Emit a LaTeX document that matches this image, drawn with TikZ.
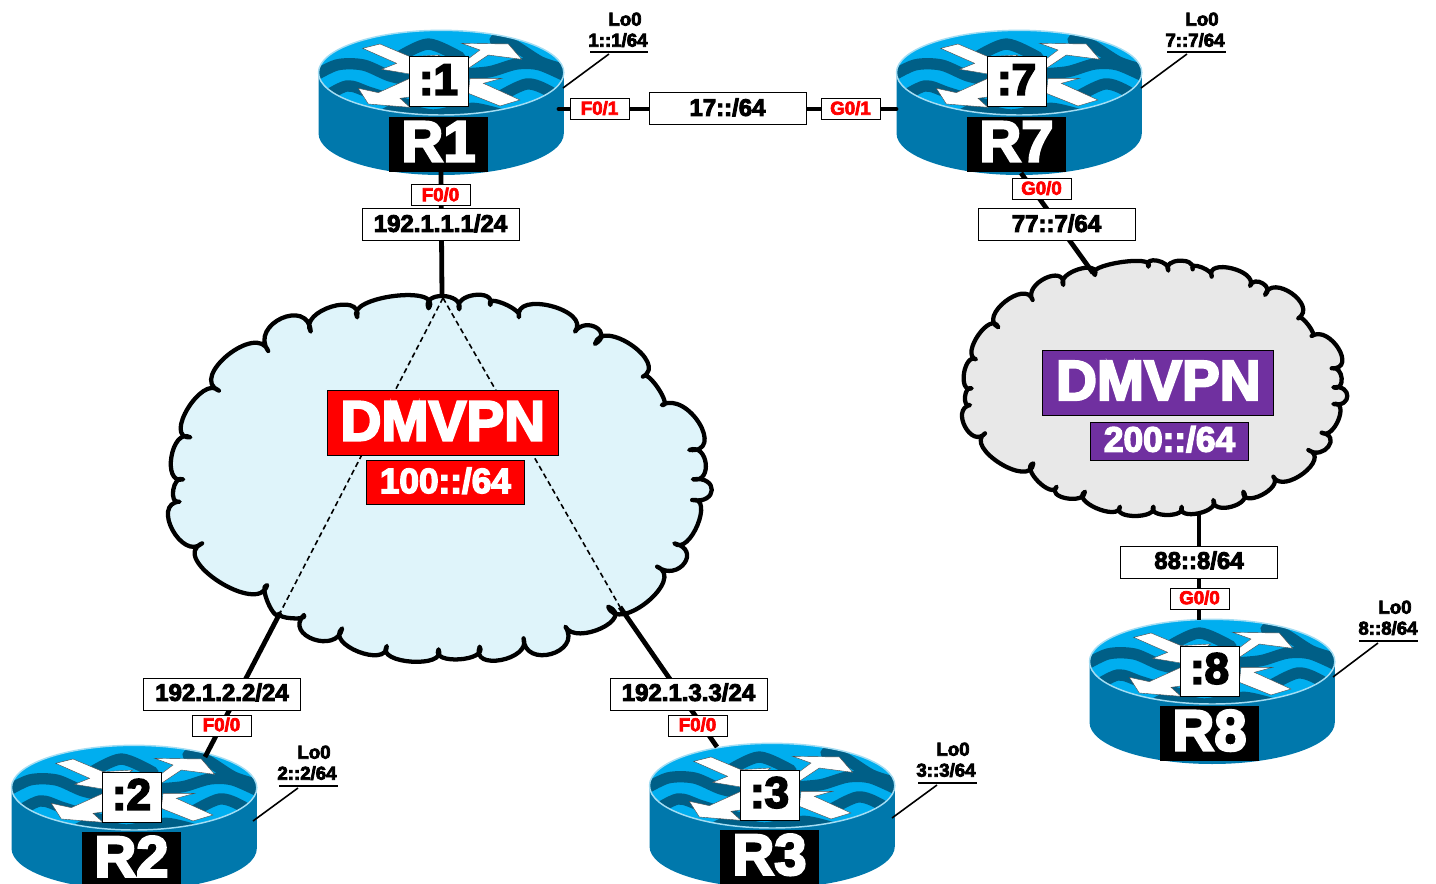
\documentclass[tikz,border=0pt]{standalone}
\usepackage{fontspec}
\newfontfamily\hb[FakeBold=4]{Liberation Sans Bold}
\definecolor{rtop}{HTML}{00AEEF}
\definecolor{rwave}{HTML}{005F87}
\definecolor{rbody}{HTML}{0078AC}
\definecolor{rrim}{HTML}{A4DDF3}
\definecolor{cloudA}{HTML}{DFF4FA}
\definecolor{cloudB}{HTML}{E8E8E8}
\definecolor{dmred}{HTML}{FF0000}
\definecolor{dmpur}{HTML}{7030A0}
\tikzset{
 ft/.style n args={3}{font=\fontsize{#1pt}{#1pt}\selectfont\hb,text height=#2pt,text depth=#3pt,inner sep=0pt,outer sep=0pt},
 f14/.style={ft={14}{10}{1.5}},
 f18/.style={ft={18}{12.9}{2.6}},
 f26/.style={ft={26.4}{18.9}{3}},
 f33/.style={ft={33}{23.6}{4.5}},
 f42/.style={ft={42.5}{30.4}{4.5}},
 f44/.style={ft={43.5}{31.1}{5}},
 addrbox/.style={f18,draw=black,fill=white,line width=.75pt,minimum width=117.75pt,minimum height=24pt},
 ifbox/.style={f14,draw=black,fill=white,text=red,line width=.75pt,minimum width=44.25pt,minimum height=15.75pt},
 lolab/.style={f14},
 link/.style={line width=3.6pt,draw=black},
 tunnel/.style={line width=1.2pt,draw=black,dash pattern=on 4pt off 2.6pt},
 uline/.style={line width=1.6pt,draw=black},
 leader/.style={line width=1.2pt,draw=black},
 cloudline/.style={line width=3.2pt,draw=black,line join=round},
 wave/.style={line width=8.5pt,draw=rwave,line cap=round},
 arrowshape/.style={fill=white,draw=black!70,line width=.3pt},
}
% one cloud lobe: from a through m to b
\newcommand\lobe[6]{ .. controls ({(1/3+0.2)*#1+4/3*#3-(2/3+0.2)*#5},{(1/3+0.2)*#2+4/3*#4-(2/3+0.2)*#6}) and ({(1/3+0.2)*#5+4/3*#3-(2/3+0.2)*#1},{(1/3+0.2)*#6+4/3*#4-(2/3+0.2)*#2}) .. (#5,#6)}
\newcommand\rtr[7]{%
 \begin{scope}[shift={(#1,#2)},x=.25pt,y=-.25pt]
  \fill[rbody] (55.5,218) -- (55.5,400) arc[start angle=180,end angle=360,x radius=92pt,y radius=31.25pt] -- (791.5,218) -- cycle;
  \begin{scope}
   \clip (423.5,218) ellipse [x radius=92pt,y radius=31.75pt];
   \fill[rtop] (423.5,218) ellipse [x radius=92pt,y radius=31.75pt];
   \draw[wave] plot[smooth] coordinates {(295,172) (385,132) (480,172)};
   \draw[wave] plot[smooth] coordinates {(585,120) (640,135) (720,185) (780,205)};
   \draw[wave] plot[smooth] coordinates {(30,235) (110,195) (190,195) (270,228) (350,245)};
   \draw[wave] plot[smooth] coordinates {(490,222) (570,215) (650,192) (720,195) (810,235)};
   \draw[wave] plot[smooth] coordinates {(60,300) (140,258) (210,278) (340,320)};
   \draw[wave] plot[smooth] coordinates {(590,295) (680,252) (750,275) (810,320)};
   \draw[wave] plot[smooth] coordinates {(250,345) (300,325) (400,345) (520,325) (640,355)};
  \end{scope}
  \draw[arrowshape] (188,145) -- (240,132) -- (330,170) -- (420,165) -- (330,222) -- (245,208) -- (290,190) -- cycle;
  \draw[arrowshape] (485,130) -- (625,132) -- (665,178) -- (565,165) -- (505,205) -- (500,180) -- (540,150) -- cycle;
  \draw[arrowshape] (175,265) -- (235,278) -- (330,235) -- (335,290) -- (300,295) -- (330,322) -- (205,312) -- cycle;
  \draw[arrowshape] (510,235) -- (605,235) -- (550,250) -- (660,300) -- (600,318) -- (505,280) -- cycle;
  \draw[rrim,line width=1.1pt] (423.5,218) ellipse [x radius=92pt,y radius=31.75pt];
  \node[f44,fill=black,text=white,minimum width=74.25pt,minimum height=41.25pt,anchor=north,#7] (#3) at (415.5,350) {#5};
  \node[f33,draw=black,line width=.75pt,fill=white,text=black,minimum width=44.25pt,minimum height=37.5pt] (#4) at (415.5,246) {#6};
 \end{scope}}
\begin{document}
\begin{tikzpicture}[x=.75pt,y=-.75pt]
\useasboundingbox (0,0) rectangle (1436,884);
% left cloud
\begin{scope}[shift={(160,280)},x=.75pt/2.8,y=-.25pt]
\draw[cloudline,fill=cloudA] (752,85)
 \lobe{752}{85}{792}{48}{838}{88}
 \lobe{838}{88}{880}{45}{925}{75}
 \lobe{925}{75}{965}{72}{1005}{112}
 \lobe{1005}{112}{1095}{78}{1162}{155}
 \lobe{1162}{155}{1222}{143}{1218}{192}
 \lobe{1218}{192}{1320}{195}{1352}{290}
 \lobe{1352}{290}{1395}{325}{1405}{375}
 \lobe{1405}{375}{1510}{430}{1482}{510}
 \lobe{1482}{510}{1528}{550}{1492}{598}
 \lobe{1492}{598}{1545}{630}{1490}{660}
 \lobe{1490}{660}{1505}{735}{1440}{790}
 \lobe{1440}{790}{1468}{850}{1392}{860}
 \lobe{1392}{860}{1365}{965}{1255}{980}
 \lobe{1255}{980}{1235}{1045}{1135}{1040}
 \lobe{1135}{1040}{1095}{1122}{1018}{1075}
 \lobe{1018}{1075}{955}{1140}{895}{1100}
 \lobe{895}{1100}{838}{1138}{780}{1108}
 \lobe{780}{1108}{705}{1145}{635}{1098}
 \lobe{635}{1098}{555}{1115}{510}{1045}
 \lobe{510}{1045}{430}{1078}{403}{1005}
 \lobe{403}{1005}{370}{1015}{335}{1000}
 \lobe{335}{1000}{303}{970}{300}{915}
 \lobe{300}{915}{165}{905}{118}{790}
 \lobe{118}{790}{35}{750}{55}{665}
 \lobe{55}{665}{37}{630}{65}{598}
 \lobe{65}{598}{32}{530}{85}{472}
 \lobe{85}{472}{78}{385}{165}{332}
 \lobe{165}{332}{190}{225}{303}{213}
 \lobe{303}{213}{340}{115}{422}{155}
 \lobe{422}{155}{480}{80}{552}{112}
 \lobe{552}{112}{655}{48}{752}{85} -- cycle;
\end{scope}
% right cloud
\begin{scope}[shift={(950,250)},x=.25pt,y=-.25pt]
\draw[cloudline,fill=cloudB] (435,75)
 \lobe{435}{75}{510}{37}{595}{50}
 \lobe{595}{50}{622}{32}{655}{62}
 \lobe{655}{62}{688}{32}{728}{58}
 \lobe{728}{58}{755}{52}{785}{80}
 \lobe{785}{80}{845}{55}{900}{108}
 \lobe{900}{108}{938}{100}{945}{135}
 \lobe{945}{135}{1025}{130}{1045}{205}
 \lobe{1045}{205}{1075}{225}{1085}{258}
 \lobe{1085}{258}{1165}{295}{1145}{355}
 \lobe{1145}{355}{1175}{385}{1150}{412}
 \lobe{1150}{412}{1192}{438}{1150}{462}
 \lobe{1150}{462}{1165}{510}{1115}{548}
 \lobe{1115}{548}{1135}{590}{1075}{600}
 \lobe{1075}{600}{1060}{670}{970}{680}
 \lobe{970}{680}{935}{735}{880}{725}
 \lobe{880}{725}{845}{770}{790}{750}
 \lobe{790}{750}{745}{790}{695}{770}
 \lobe{695}{770}{652}{795}{610}{770}
 \lobe{610}{770}{555}{798}{510}{770}
 \lobe{510}{770}{440}{775}{405}{725}
 \lobe{405}{725}{350}{745}{320}{710}
 \lobe{320}{710}{265}{695}{250}{640}
 \lobe{250}{640}{150}{640}{105}{550}
 \lobe{105}{550}{45}{530}{60}{465}
 \lobe{60}{465}{45}{440}{65}{415}
 \lobe{65}{415}{42}{370}{78}{328}
 \lobe{78}{328}{85}{255}{145}{232}
 \lobe{145}{232}{165}{155}{248}{150}
 \lobe{248}{150}{285}{85}{340}{105}
 \lobe{340}{105}{385}{58}{435}{75} -- cycle;
\end{scope}
% routers
\rtr{300}{0}{r1}{n1}{R1}{:1}{}
\rtr{878}{0}{r7}{n7}{R7}{:7}{}
\rtr{1071}{589}{r8}{n8}{R8}{:8}{}
\rtr{-7}{715}{r2}{n2}{R2}{:2}{minimum height=39pt,text depth=2.5pt}
\rtr{631}{713}{r3}{n3}{R3}{:3}{minimum height=40.5pt,text depth=4pt}
% connector ends
\coordinate (r1s) at (441,172);
\coordinate (r1e) at (559,109);
\coordinate (r7w) at (896,109);
\coordinate (r7s) at (1021,173);
\coordinate (r8n) at (1199,620);
\coordinate (r2n) at (205,757);
\coordinate (r3n) at (717,747);
\coordinate (ca) at (442,296);
\coordinate (cb) at (280,613);
\coordinate (cc) at (620,607);
\coordinate (da) at (1093,273);
\coordinate (db) at (1199,514);
\coordinate (ua) at (443,298);
\draw[link,line cap=round] (r1e) -- (r7w);
\draw[link] (r1s) -- (ca);
\draw[link] (cb) -- (r2n);
\draw[link] (cc) -- (r3n);
\draw[link] (r7s) -- (da);
\draw[link] (db) -- (r8n);
\draw[tunnel] (ua) -- (cb);
\draw[tunnel] (ua) -- (cc);
% loopback labels
\node[lolab] (lo1) at (625,20) {Lo0};
\node[lolab] (ad1) at (618,41) {1::1/64};
\coordinate (u1a) at (590,52); \coordinate (u1b) at (648,52); \coordinate (u1c) at (609,54);
\draw[uline] (u1a) -- (u1b);
\coordinate (e1) at (563,88); \draw[leader] (u1c) -- (e1);
\node[lolab] (lo7) at (1202,20) {Lo0};
\node[lolab] (ad7) at (1195,41) {7::7/64};
\coordinate (u7a) at (1167,52); \coordinate (u7b) at (1226,52); \coordinate (u7c) at (1187,54);
\draw[uline] (u7a) -- (u7b);
\coordinate (e7) at (1141,88); \draw[leader] (u7c) -- (e7);
\node[lolab] (lo8) at (1395,608) {Lo0};
\node[lolab] (ad8) at (1388,629) {8::8/64};
\coordinate (u8a) at (1359,641); \coordinate (u8b) at (1418,641); \coordinate (u8c) at (1378,643);
\draw[uline] (u8a) -- (u8b);
\coordinate (e8) at (1333,677); \draw[leader] (u8c) -- (e8);
\node[lolab] (lo2) at (314,753) {Lo0};
\node[lolab] (ad2) at (307,774) {2::2/64};
\coordinate (u2a) at (279,786); \coordinate (u2b) at (338,786); \coordinate (u2c) at (298,788);
\draw[uline] (u2a) -- (u2b);
\coordinate (e2) at (253,821); \draw[leader] (u2c) -- (e2);
\node[lolab] (lo3) at (953,750) {Lo0};
\node[lolab] (ad3) at (946,771) {3::3/64};
\coordinate (u3a) at (918,783); \coordinate (u3b) at (977,783); \coordinate (u3c) at (937,785);
\draw[uline] (u3a) -- (u3b);
\coordinate (e3) at (892,818); \draw[leader] (u3c) -- (e3);
% address and interface boxes
\node[addrbox] (a1) at (440.5,225) {192.1.1.1/24};
\node[ifbox] (i1a) at (440.5,195.5) {F0/0};
\node[ifbox] (i1b) at (599.5,109) {F0/1};
\node[addrbox] (a17) at (727.5,109) {17::/64};
\node[ifbox] (i7b) at (850.5,109) {G0/1};
\node[ifbox] (i7a) at (1041.5,189) {G0/0};
\node[addrbox] (a7) at (1056.5,225) {77::7/64};
\node[addrbox] (a8) at (1199,562) {88::8/64};
\node[ifbox] (i8) at (1199.5,598.5) {G0/0};
\node[addrbox] (a2) at (222,694) {192.1.2.2/24};
\node[ifbox] (i2) at (221.5,725.5) {F0/0};
\node[addrbox] (a3) at (688.5,694) {192.1.3.3/24};
\node[ifbox] (i3) at (697.5,725.5) {F0/0};
% DMVPN titles
\node[f42,fill=dmred,draw=black,line width=.6pt,text=white,minimum width=173.25pt,minimum height=48.75pt] (d1) at (442.8,423.2) {DMVPN};
\node[f26,fill=dmred,draw=black,line width=.6pt,text=white,minimum width=118.5pt,minimum height=33pt] (d2) at (445.4,482.5) {100::/64};
\node[f42,fill=dmpur,draw=black,line width=.6pt,text=white,minimum width=173.25pt,minimum height=49pt] (d3) at (1158.3,382.8) {DMVPN};
\node[f26,fill=dmpur,draw=black,line width=.6pt,text=white,minimum width=118.5pt,minimum height=28.5pt] (d4) at (1169.5,441) {200::/64};
\end{tikzpicture}
\end{document}
